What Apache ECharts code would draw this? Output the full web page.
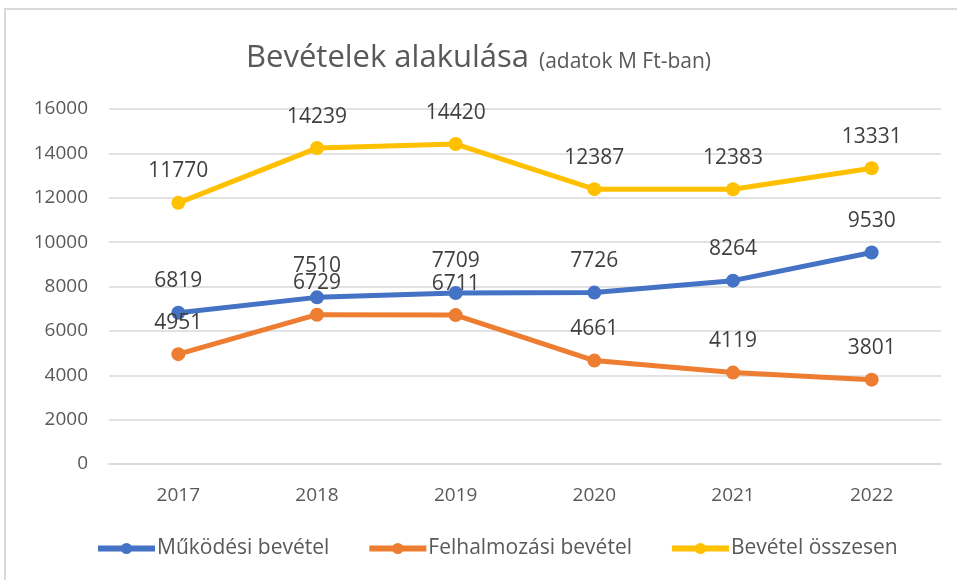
<!DOCTYPE html>
<html>
<head>
    <meta charset="utf-8">
    <title>Bevételek alakulása</title>
    <script src="https://cdn.jsdelivr.net/npm/echarts@6/dist/echarts.min.js"></script>
    <style>
      body { padding: 0; margin: 0; background: #fff; }
      #main { width: 957px; height: 580px; }
    </style>
</head>
<body>
    <div id="main"></div>
    <script type="text/javascript">
      const years = ['2017', '2018', '2019', '2020', '2021', '2022'];
      const mukodesi = [6819, 7510, 7709, 7726, 8264, 9530];
      const felhalmozasi = [4951, 6729, 6711, 4661, 4119, 3801];
      const osszesen = [11770, 14239, 14420, 12387, 12383, 13331];

      const myChart = echarts.init(document.getElementById('main'));

      function line(name, data, color) {
        return {
          name,
          type: 'line',
          data,
          symbol: 'circle',
          symbolSize: 14,
          lineStyle: { width: 5, color },
          itemStyle: { color },
          label: {
            show: true,
            position: 'top',
            distance: 14,
            color: '#404040',
            fontSize: 21,
            fontFamily: 'Open Sans'
          },
          animation: false
        };
      }

      const option = {
        backgroundColor: '#fff',
        graphic: [{
          type: 'rect',
          shape: { x: 5, y: 9, width: 960, height: 580 },
          style: { fill: 'none', stroke: '#d9d9d9', lineWidth: 2 }
        }],
        title: {
          text: '{a|Bevételek alakulása}  {b|(adatok M Ft-ban)}',
          left: 'center',
          top: 38,
          textStyle: {
            fontWeight: 'normal',
            rich: {
              a: { fontSize: 31, color: '#595959', fontFamily: 'Open Sans', fontWeight: 'normal' },
              b: { fontSize: 21, color: '#595959', fontFamily: 'Open Sans', fontWeight: 'normal', padding: [7, 0, 0, 0] }
            }
          }
        },
        legend: {
          top: 538,
          left: 95,
          padding: 0,
          itemGap: 37,
          itemWidth: 57,
          itemHeight: 14,
          lineStyle: { width: 6 },
          textStyle: { fontSize: 21, color: '#595959', fontFamily: 'Open Sans', padding: [0, 0, 0, -3] },
          data: ['Működési bevétel', 'Felhalmozási bevétel', 'Bevétel összesen']
        },
        grid: { left: 109, right: 16, top: 109, bottom: 116 },
        xAxis: {
          type: 'category',
          data: years,
          axisLine: { lineStyle: { color: '#d9d9d9', width: 1.5 } },
          axisTick: { show: false },
          axisLabel: { color: '#595959', fontSize: 19, margin: 22, fontFamily: 'Open Sans' }
        },
        yAxis: {
          type: 'value',
          min: 0,
          max: 16000,
          interval: 2000,
          axisLine: { show: false },
          axisTick: { show: false },
          splitLine: { lineStyle: { color: '#d9d9d9', width: 1.5 } },
          axisLabel: { color: '#595959', fontSize: 19, margin: 21, fontFamily: 'Open Sans', formatter: v => String(v) }
        },
        series: [
          line('Működési bevétel', mukodesi, '#4472c4'),
          line('Felhalmozási bevétel', felhalmozasi, '#ed7d31'),
          line('Bevétel összesen', osszesen, '#ffc000')
        ]
      };
      myChart.setOption(option);
    </script>
</body>
</html>
